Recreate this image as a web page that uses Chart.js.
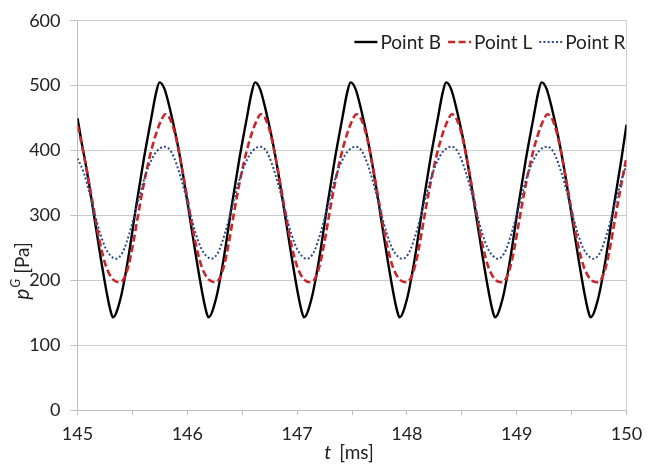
<!DOCTYPE html>
<html><head><meta charset="utf-8">
<script src="https://cdn.jsdelivr.net/npm/chart.js@4.4.0/dist/chart.umd.min.js"></script>
<style>html,body{margin:0;padding:0;background:#fff;}canvas{display:block;}</style>
</head><body>
<canvas id="c" width="654" height="464"></canvas>
<script>
// ---- data ----
const xTickLabels = [145, 146, 147, 148, 149, 150];
const yTickLabels = [0, 100, 200, 300, 400, 500, 600];
const seriesNames = ['Point B', 'Point L', 'Point R'];

const tB = [145.000,145.032,145.092,145.152,145.212,145.267,145.302,
 145.322,145.392,145.462,145.532,145.602,145.672,145.717,145.747,145.792,145.842,145.902,145.962,146.022,146.082,146.137,146.172,
 146.192,146.262,146.332,146.402,146.472,146.542,146.587,146.617,146.662,146.712,146.772,146.832,146.892,146.952,147.007,147.042,
 147.062,147.132,147.202,147.272,147.342,147.412,147.457,147.487,147.532,147.582,147.642,147.702,147.762,147.822,147.877,147.912,
 147.932,148.002,148.072,148.142,148.212,148.282,148.327,148.357,148.402,148.452,148.512,148.572,148.632,148.692,148.747,148.782,
 148.802,148.872,148.942,149.012,149.082,149.152,149.197,149.227,149.272,149.322,149.382,149.442,149.502,149.562,149.617,149.652,
 149.672,149.742,149.812,149.882,149.952,150.000];
const pB = [450,418,362,298,234,180,152,
 143,172,234,312,385,450,490,505,495,464,418,362,298,234,180,152,
 143,172,234,312,385,450,490,505,495,464,418,362,298,234,180,152,
 143,172,234,312,385,450,490,505,495,464,418,362,298,234,180,152,
 143,172,234,312,385,450,490,505,495,464,418,362,298,234,180,152,
 143,172,234,312,385,450,490,505,495,464,418,362,298,234,180,152,
 143,172,234,312,385,440];

const tL = [145.000,145.019,145.079,145.139,145.199,145.259,145.319,
 145.384,145.424,145.464,145.504,145.544,145.594,145.654,145.714,145.764,145.799,145.839,145.889,145.949,146.009,146.069,146.129,146.189,
 146.254,146.294,146.334,146.374,146.414,146.464,146.524,146.584,146.634,146.669,146.709,146.759,146.819,146.879,146.939,146.999,147.059,
 147.124,147.164,147.204,147.244,147.284,147.334,147.394,147.454,147.504,147.539,147.579,147.629,147.689,147.749,147.809,147.869,147.929,
 147.994,148.034,148.074,148.114,148.154,148.204,148.264,148.324,148.374,148.409,148.449,148.499,148.559,148.619,148.679,148.739,148.799,
 148.864,148.904,148.944,148.984,149.024,149.074,149.134,149.194,149.244,149.279,149.319,149.369,149.429,149.489,149.549,149.609,149.669,
 149.734,149.774,149.814,149.854,149.894,149.944,150.000];
const pL = [438,425,375,318,262,222,202,
 197,203,222,254,293,340,388,425,447,456,450,425,375,318,262,222,202,
 197,203,222,254,293,340,388,425,447,456,450,425,375,318,262,222,202,
 197,203,222,254,293,340,388,425,447,456,450,425,375,318,262,222,202,
 197,203,222,254,293,340,388,425,447,456,450,425,375,318,262,222,202,
 197,203,222,254,293,340,388,425,447,456,450,425,375,318,262,222,202,
 197,203,222,254,293,340,390];

const tR = [145.000,145.057,145.107,145.157,145.207,145.257,145.307,
 145.347,145.382,145.422,145.472,145.520,145.572,145.622,145.672,145.722,145.797,145.837,145.877,145.927,145.977,146.027,146.077,146.127,146.177,
 146.217,146.252,146.292,146.342,146.390,146.442,146.492,146.542,146.592,146.667,146.707,146.747,146.797,146.847,146.897,146.947,146.997,147.047,
 147.087,147.122,147.162,147.212,147.260,147.312,147.362,147.412,147.462,147.537,147.577,147.617,147.667,147.717,147.767,147.817,147.867,147.917,
 147.957,147.992,148.032,148.082,148.130,148.182,148.232,148.282,148.332,148.407,148.447,148.487,148.537,148.587,148.637,148.687,148.737,148.787,
 148.827,148.862,148.902,148.952,149.000,149.052,149.102,149.152,149.202,149.277,149.317,149.357,149.407,149.457,149.507,149.557,149.607,149.657,
 149.697,149.732,149.772,149.822,149.870,149.922,149.972,150.000];
const pR = [388,366,336,302,272,249,237,
 233,236,247,272,301,335,364,385,399,406,402,390,366,336,302,272,249,237,
 233,236,247,272,301,335,364,385,399,406,402,390,366,336,302,272,249,237,
 233,236,247,272,301,335,364,385,399,406,402,390,366,336,302,272,249,237,
 233,236,247,272,301,335,364,385,399,406,402,390,366,336,302,272,249,237,
 233,236,247,272,301,335,364,385,399,406,402,390,366,336,302,272,249,237,
 233,236,247,272,301,335,364,377];

// ---- chart ----
const toXY = (t, p) => t.map((x, i) => ({x: x, y: p[i]}));
const FONT = 'Lato';
const TXT = '#222222';
const GRID = '#cccccc';

const legendPlugin = {
  id: 'customLegendTitles',
  afterDraw(chart) {
    const ctx = chart.ctx;
    ctx.save();
    // legend (top-right, inside plot area)
    ctx.font = '19px ' + FONT;
    ctx.textBaseline = 'middle';
    const ds = chart.data.datasets;
    const lineLen = 23, gapT = 3, gapI = 7;
    let total = 0;
    ds.forEach(d => { total += lineLen + gapT + ctx.measureText(d.label).width; });
    total += gapI * (ds.length - 1);
    let x = chart.chartArea.right - 1 - total;
    const y = 42;
    ds.forEach(d => {
      ctx.save();
      ctx.strokeStyle = d.borderColor;
      ctx.lineWidth = d.borderWidth;
      ctx.setLineDash(d.borderDash || []);
      ctx.beginPath();
      ctx.moveTo(x, y); ctx.lineTo(x + lineLen, y);
      ctx.stroke();
      ctx.restore();
      ctx.fillStyle = TXT;
      ctx.textAlign = 'left';
      ctx.fillText(d.label, x + lineLen + gapT, y + 1);
      x += lineLen + gapT + ctx.measureText(d.label).width + gapI;
    });
    // x title: t [ms]
    ctx.textBaseline = 'alphabetic';
    ctx.fillStyle = TXT;
    const fI = 'italic 20px ' + FONT, fR = '19px ' + FONT;
    ctx.font = fI; const wt = ctx.measureText('t').width;
    ctx.font = fR; const wm = ctx.measureText('[ms]').width;
    const sp = 8;
    let xs = 349 - (wt + sp + wm) / 2;
    ctx.font = fI; ctx.fillText('t', xs, 459);
    ctx.font = fR; ctx.fillText('[ms]', xs + wt + sp, 459);
    // y title: p^G [Pa]
    ctx.translate(24, 271);
    ctx.rotate(-Math.PI / 2);
    const fP = 'italic 21px ' + FONT;
    const fS = 'italic 13px ' + FONT;
    ctx.font = fP; const wp = ctx.measureText('p').width;
    ctx.font = fS; const wg = ctx.measureText('G').width;
    ctx.font = fR; const wpa = ctx.measureText('[Pa]').width;
    const sp2 = 5;
    let ys = -(wp + 1 + wg + sp2 + wpa) / 2;
    const base = 5;
    ctx.font = fP; ctx.fillText('p', ys, base);
    ctx.font = fS; ctx.fillText('G', ys + wp + 1, base - 9);
    ctx.font = fR; ctx.fillText('[Pa]', ys + wp + 1 + wg + sp2, base);
    ctx.restore();
  }
};

new Chart(document.getElementById('c'), {
  type: 'line',
  data: {
    datasets: [
      {label: seriesNames[0], data: toXY(tB, pB), borderColor: '#000000', borderWidth: 2.4,
       order: 3},
      {label: seriesNames[1], data: toXY(tL, pL), borderColor: '#c8262b', borderWidth: 2.6,
       borderDash: [7, 3.5], order: 2},
      {label: seriesNames[2], data: toXY(tR, pR), borderColor: '#2c4a86', borderWidth: 2,
       borderDash: [2, 2.2], order: 1}
    ].map(d => Object.assign(d, {pointRadius: 0, fill: false, cubicInterpolationMode: 'monotone',
       borderCapStyle: 'butt', borderJoinStyle: 'round'}))
  },
  options: {
    responsive: false,
    animation: false,
    layout: {padding: {top: 19, right: 27.5, left: 0, bottom: 0}},
    plugins: {legend: {display: false}, tooltip: {enabled: false}},
    scales: {
      x: {
        type: 'linear', min: 145, max: 150,
        afterFit: s => { s.height = 54; },
        border: {display: true, color: '#bfbfbf', width: 1},
        grid: {
          drawOnChartArea: true, drawTicks: true, tickLength: 5, tickColor: '#bfbfbf',
          color: c => (c.tick && c.tick.value === 150) ? '#cfcfcf' : 'rgba(0,0,0,0)'
        },
        ticks: {
          stepSize: 0.5, autoSkip: false, maxRotation: 0, padding: 8,
          color: TXT, font: {family: FONT, size: 18},
          callback: v => xTickLabels.includes(v) ? String(v) : ''
        }
      },
      y: {
        min: 0, max: 600,
        afterFit: s => { s.width = 77.5; },
        border: {display: true, color: '#bfbfbf', width: 1},
        grid: {color: GRID, tickLength: 7, tickColor: '#bfbfbf'},
        ticks: {
          stepSize: 100, padding: 10, color: TXT, font: {family: FONT, size: 18},
          callback: v => yTickLabels.includes(v) ? String(v) : ''
        }
      }
    }
  },
  plugins: [legendPlugin]
});
</script>
</body></html>
